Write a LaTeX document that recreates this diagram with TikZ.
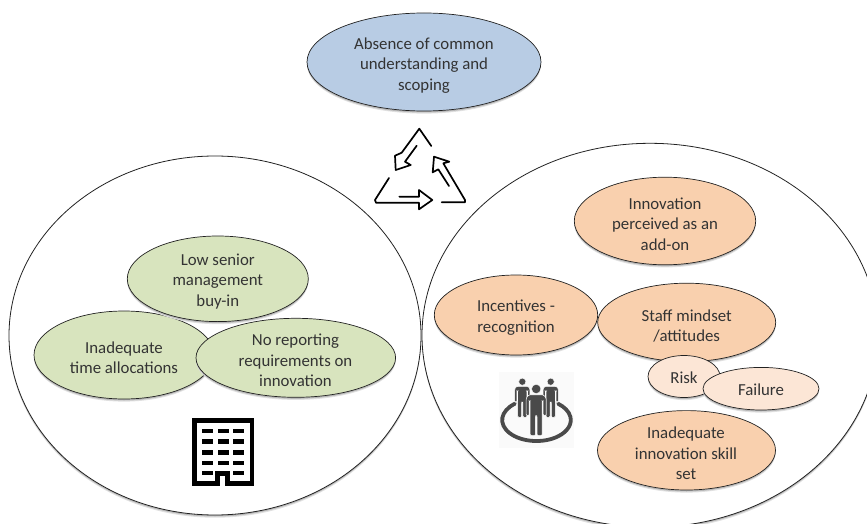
\documentclass[tikz,border=0pt]{standalone}
\usepackage{fontspec}
\setmainfont{Carlito}
\definecolor{bluefill}{HTML}{B8CCE4}
\definecolor{greenfill}{HTML}{D8E4BE}
\definecolor{orangefill}{HTML}{F9D0AE}
\definecolor{palefill}{HTML}{FCE6D6}
\definecolor{edgec}{HTML}{222222}
\definecolor{peoplec}{HTML}{4A4A4A}
\tikzset{
  txt/.style={align=center,font=\fontsize{16.8}{20.5}\selectfont,text=black!80,inner sep=0pt},
  bubble/.style={draw=edgec,line width=0.7pt},
  bigc/.style={draw=edgec,line width=0.8pt,fill=white},
  recy/.style={draw=black,line width=1.7pt,line cap=round,line join=round},
}
\newcommand{\bub}[5]{% x y rx ry fill
  \fill[black!12] (#1,#2+2.6) ellipse [x radius=#3,y radius=#4];
  \fill[black!28] (#1,#2+1.5) ellipse [x radius=#3,y radius=#4];
  \filldraw[bubble,fill=#5] (#1,#2) ellipse [x radius=#3,y radius=#4];}
\newcommand{\person}[3]{% x y scale
  \begin{scope}[shift={(#1,#2)},scale=#3]
    \path[fill=peoplec,draw=white,line width=0.4pt] (0,-8) circle (7.0);
    \path[fill=peoplec,draw=white,line width=0.5pt,rounded corners=1.2pt] (-15,6) -- (-11.5,1) -- (11.5,1) -- (15,6) -- (15,32) -- (10.5,32) -- (10.5,10) -- (9,10) -- (9,62) -- (1.2,62) -- (1.2,32) -- (-1.2,32) -- (-1.2,62) -- (-9,62) -- (-9,10) -- (-10.5,10) -- (-10.5,32) -- (-15,32) -- cycle;
  \end{scope}}
\begin{document}
\begin{tikzpicture}[x=1pt,y=-1pt]
\useasboundingbox (0,0) rectangle (867,524);
\begin{scope}
\clip (0,0) rectangle (867,524);
\fill[black!12] (215,338.2) ellipse [x radius=206,y radius=179.5];
\fill[black!28] (215,337) ellipse [x radius=206,y radius=179.5];
\filldraw[bigc] (215,335.5) ellipse [x radius=206,y radius=179.5];
\fill[black!12] (650,338) ellipse [x radius=228,y radius=192];
\fill[black!28] (650,336.8) ellipse [x radius=228,y radius=192];
\filldraw[bigc] (650,335.3) ellipse [x radius=228,y radius=192];
\end{scope}

\bub{424}{62}{117}{49}{bluefill}
\node[txt] (absence) at (424,65.3) {Absence of common\\understanding and\\scoping};

% recycling triangle
\draw[recy] (431.3,146) -- (419.3,128.7) -- (401.7,152.7) -- (395,155.7) -- (395.7,170) -- (410.7,165) -- (405,161.7) -- (416.7,145.7);
\draw[recy] (389,178) -- (375,200) -- (376,202.7) -- (419,202.7) -- (419,209.3) -- (432.3,200) -- (419,190) -- (419,196.7) -- (399.3,196.7);
\draw[recy] (441.7,202.3) -- (465,202.3) -- (465,200) -- (443.3,163.3) -- (449.3,161.7) -- (434,156.7) -- (432.7,172.3) -- (438.3,169.3) -- (449,186);

% left group
\bub{124}{355}{90}{44}{greenfill}
\bub{217.8}{278.8}{90.5}{42.8}{greenfill}
\bub{295.8}{357.8}{99.8}{39.5}{greenfill}
\node[txt] (low) at (217.8,281.5) {Low senior\\management\\buy-in};
\node[txt] (time) at (124,357.5) {Inadequate\\time allocations};
\node[txt] (reporting) at (295.5,360.5) {No reporting\\requirements on\\innovation};

% building icon
\fill[black] (191.7,418.3) rectangle (254.3,486);
\fill[white] (196.5,423) rectangle (249.5,481.3);
\foreach \yy in {428.7,439.3,450,460.7,470.7} \foreach \xx in {201.7,217.7,233.3}
  \fill[black] (\xx,\yy) rectangle ++(10.8,4.7);
\fill[black] (215,470.7) rectangle (230,486);
\fill[white] (220,475.5) rectangle (225,486);

% right group
\bub{665}{221}{90.7}{43.8}{orangefill}
\bub{516}{315}{81.7}{40}{orangefill}
\bub{686.7}{322.4}{89}{39.2}{orangefill}
\bub{684}{376.5}{36}{21}{palefill}
\bub{761}{388.7}{58}{21.3}{palefill}
\bub{686.5}{450.3}{89}{39.7}{orangefill}
\node[txt] (perceived) at (665,224) {Innovation\\perceived as an\\add-on};
\node[txt] (incentives) at (516,317.7) {Incentives -\\recognition};
\node[txt] (staff) at (686.7,326) {Staff mindset\\/attitudes};
\node[txt] (risk) at (684,378) {Risk};
\node[txt] (failure) at (761,390) {Failure};
\node[txt] (skill) at (686,453.3) {Inadequate\\innovation skill\\set};

% people icon
\fill[black!2] (499,372) rectangle (574,448);
\draw[peoplec,line width=3.8pt,line cap=round] (514.9,403.7) arc [start angle=231,end angle=-51,x radius=34.3,y radius=21];
\person{522.3}{385.8}{0.51}
\person{550.7}{385.8}{0.51}
\person{536.2}{394.3}{0.667}
\end{tikzpicture}
\end{document}
